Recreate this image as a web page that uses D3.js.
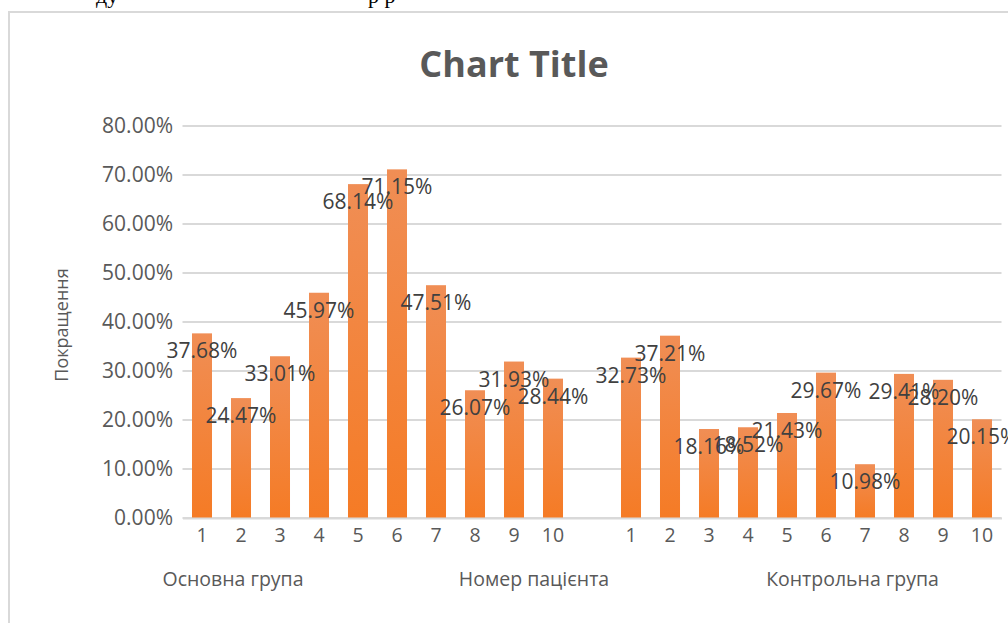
<!DOCTYPE html>
<html>
<head>
<meta charset="utf-8">
<script src="https://cdn.jsdelivr.net/npm/d3@7"></script>
<style>
  html, body { margin: 0; padding: 0; background: #fff; }
  svg { display: block; }
</style>
</head>
<body>
<div id="chart"></div>
<script>
// Дані діаграми
var patientNumbers = ["1", "2", "3", "4", "5", "6", "7", "8", "9", "10"];
var mainGroup    = [0.3768, 0.2447, 0.3301, 0.4597, 0.6814, 0.7115, 0.4751, 0.2607, 0.3193, 0.2844];
var controlGroup = [0.3273, 0.3721, 0.1816, 0.1852, 0.2143, 0.2967, 0.1098, 0.2941, 0.2820, 0.2015];
var groupNames   = ["Основна група", "Номер пацієнта", "Контрольна група"];
var yTicks       = [0, 0.1, 0.2, 0.3, 0.4, 0.5, 0.6, 0.7, 0.8];
var chartTitle   = "Chart Title";
var yTitle       = "Покращення";

var width = 1008;
var height = 623;

// одна порожня категорія між групами
var rows = [];
patientNumbers.forEach(function(n, i) { rows.push({ key: "a" + i, label: n, value: mainGroup[i] }); });
rows.push({ key: "gap", label: "", value: null });
patientNumbers.forEach(function(n, i) { rows.push({ key: "b" + i, label: n, value: controlGroup[i] }); });

var svg = d3.select("#chart").append("svg")
    .attr("width", width)
    .attr("height", height);

svg.append("rect").attr("width", width).attr("height", height).attr("fill", "#fff");

// уривок тексту документа над діаграмою
svg.append("text")
    .attr("x", 96).attr("y", 3)
    .attr("font-family", "Liberation Serif")
    .attr("font-size", 22)
    .attr("fill", "#000")
    .text("ду");
svg.append("text")
    .attr("x", 368).attr("y", 3)
    .attr("font-family", "Liberation Serif")
    .attr("font-size", 22)
    .attr("fill", "#000")
    .text("р  р");

// рамка області діаграми
svg.append("rect")
    .attr("x", 9).attr("y", 12)
    .attr("width", 1100).attr("height", 700)
    .attr("fill", "#fff")
    .attr("stroke", "#d9d9d9")
    .attr("stroke-width", 2);

var defs = svg.append("defs");
var grad = defs.append("linearGradient")
    .attr("id", "barFill")
    .attr("x1", 0).attr("y1", 0).attr("x2", 0).attr("y2", 1);
grad.append("stop").attr("offset", "0%").attr("stop-color", "#f08e55");
grad.append("stop").attr("offset", "100%").attr("stop-color", "#f57b25");

var x = d3.scaleBand()
    .domain(rows.map(function(d) { return d.key; }))
    .range([182.5, 1001.5])
    .paddingInner(0.487)
    .paddingOuter(0.2435);

var y = d3.scaleLinear()
    .domain([0, 0.8])
    .range([518, 126]);

var pct = d3.format(".2%");

// сітка
svg.append("g")
    .selectAll("line")
    .data(yTicks)
    .enter().append("line")
    .attr("x1", 182.5).attr("x2", 1001.5)
    .attr("y1", function(d) { return y(d); })
    .attr("y2", function(d) { return y(d); })
    .attr("stroke", "#d9d9d9")
    .attr("stroke-width", 2);

// вісь Y
var yAxis = svg.append("g")
    .attr("transform", "translate(182,0)")
    .call(d3.axisLeft(y).tickValues(yTicks).tickFormat(pct).tickSize(0).tickPadding(9));
yAxis.select(".domain").remove();
yAxis.selectAll("text")
    .attr("font-family", "Open Sans")
    .attr("font-size", 21)
    .attr("fill", "#595959");

// стовпці
var bars = rows.filter(function(d) { return d.value !== null; });

svg.append("g")
    .selectAll("rect")
    .data(bars)
    .enter().append("rect")
    .attr("x", function(d) { return x(d.key); })
    .attr("y", function(d) { return y(d.value); })
    .attr("width", x.bandwidth())
    .attr("height", function(d) { return y(0) - y(d.value); })
    .attr("fill", "url(#barFill)");

// вісь X
var xAxis = svg.append("g")
    .attr("transform", "translate(0,518)")
    .call(d3.axisBottom(x).tickFormat(function(k) {
        return rows.find(function(r) { return r.key === k; }).label;
    }).tickSize(0).tickPadding(10));
xAxis.select(".domain")
    .attr("stroke", "#d9d9d9")
    .attr("stroke-width", 2);
xAxis.selectAll("text")
    .attr("font-family", "Open Sans")
    .attr("font-size", 19.5)
    .attr("fill", "#595959");

// підписи даних (всередині біля вершини)
svg.append("g")
    .selectAll("text")
    .data(bars)
    .enter().append("text")
    .attr("x", function(d) { return x(d.key) + x.bandwidth() / 2; })
    .attr("y", function(d) { return y(d.value) + 25; })
    .attr("text-anchor", "middle")
    .attr("font-family", "Open Sans")
    .attr("font-size", 21)
    .attr("fill", "#404040")
    .text(function(d) { return pct(d.value); });

// назви груп
var groupX = [233, 534, 852.5];
svg.append("g")
    .selectAll("text")
    .data(groupNames)
    .enter().append("text")
    .attr("x", function(d, i) { return groupX[i]; })
    .attr("y", 586)
    .attr("text-anchor", "middle")
    .attr("font-family", "Open Sans")
    .attr("font-size", 19.5)
    .attr("fill", "#595959")
    .text(function(d) { return d; });

// заголовок
svg.append("text")
    .attr("x", 514).attr("y", 77)
    .attr("text-anchor", "middle")
    .attr("font-family", "Open Sans")
    .attr("font-weight", "bold")
    .attr("font-size", 36)
    .attr("fill", "#595959")
    .text(chartTitle);

// назва осі Y
svg.append("text")
    .attr("transform", "translate(68,325) rotate(-90)")
    .attr("text-anchor", "middle")
    .attr("font-family", "Open Sans")
    .attr("font-size", 18)
    .attr("fill", "#595959")
    .text(yTitle);
</script>
</body>
</html>
